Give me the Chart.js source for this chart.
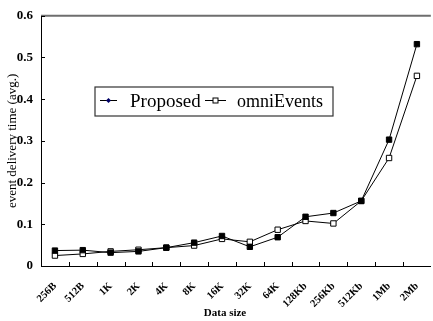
<!DOCTYPE html>
<html>
<head>
<meta charset="utf-8">
<script src="https://cdn.jsdelivr.net/npm/chart.js@4/dist/chart.umd.min.js"></script>
<style>
  html, body { margin: 0; padding: 0; background: #fff; overflow: hidden; }
  #wrap { width: 440px; height: 321px; }
</style>
</head>
<body>
<div id="wrap"><canvas id="c" width="440" height="321"></canvas></div>
<script>
const categories = ["256B","512B","1K","2K","4K","8K","16K","32K","64K","128Kb","256Kb","512Kb","1Mb","2Mb"];
const proposed   = [0.037,0.038,0.032,0.035,0.044,0.056,0.072,0.046,0.069,0.118,0.127,0.156,0.303,0.532];
const omniEvents = [0.025,0.029,0.035,0.039,0.044,0.049,0.065,0.058,0.087,0.108,0.102,0.156,0.259,0.456];
const seriesNames = ["Proposed","omniEvents"];
const yTicks = [0,0.1,0.2,0.3,0.4,0.5,0.6];

const SERIF = "'Liberation Serif', 'Times New Roman', serif";

const decor = {
  id: 'decor',
  beforeDatasetsDraw(chart) {
    const {ctx, chartArea: a, scales: {x, y}} = chart;
    ctx.save();
    ctx.strokeStyle = '#6e6e6e';
    ctx.lineWidth = 2;
    ctx.beginPath(); ctx.moveTo(a.left, a.top); ctx.lineTo(a.right, a.top); ctx.stroke();
    ctx.strokeStyle = '#000';
    ctx.lineWidth = 1;
    ctx.beginPath();
    for (let i = 1; i < x.ticks.length; i++) {
      const px = Math.round((x.getPixelForTick(i - 1) + x.getPixelForTick(i)) / 2) + 0.5;
      ctx.moveTo(px, a.bottom); ctx.lineTo(px, a.bottom - 4);
    }
    y.ticks.forEach((t, i) => {
      const py = Math.round(y.getPixelForTick(i)) + 0.5;
      ctx.moveTo(a.left, py); ctx.lineTo(a.left + 4, py);
    });
    ctx.stroke();
    ctx.restore();
  },
  afterDraw(chart) {
    const {ctx} = chart;
    ctx.save();
    ctx.fillStyle = '#000';
    ctx.font = "bold 11px " + SERIF;
    ctx.textAlign = 'center';
    ctx.textBaseline = 'alphabetic';
    ctx.fillText('Data size', 225, 316);
    ctx.strokeStyle = '#333';
    ctx.lineWidth = 1.2;
    ctx.fillStyle = '#fff';
    ctx.fillRect(95, 87, 238, 29);
    ctx.strokeRect(95, 87, 238, 29);
    const ly = 100.5;
    ctx.strokeStyle = '#000'; ctx.lineWidth = 1;
    ctx.beginPath(); ctx.moveTo(100, ly); ctx.lineTo(117, ly); ctx.stroke();
    ctx.fillStyle = '#000066';
    ctx.beginPath(); ctx.moveTo(108.5, ly - 2.5); ctx.lineTo(111, ly); ctx.lineTo(108.5, ly + 2.5); ctx.lineTo(106, ly); ctx.closePath(); ctx.fill();
    ctx.fillStyle = '#000';
    ctx.font = "19px " + SERIF;
    ctx.textAlign = 'left';
    ctx.fillText(seriesNames[0], 130, 107);
    ctx.beginPath(); ctx.moveTo(205, ly); ctx.lineTo(226, ly); ctx.stroke();
    ctx.fillStyle = '#fff';
    ctx.fillRect(213, ly - 2.5, 5, 5);
    ctx.strokeRect(213, ly - 2.5, 5, 5);
    ctx.fillStyle = '#000';
    ctx.font = "18px " + SERIF;
    ctx.fillText(seriesNames[1], 237, 107);
    ctx.restore();
  }
};

new Chart(document.getElementById('c'), {
  type: 'line',
  data: {
    labels: categories,
    datasets: [
      {
        label: seriesNames[0], data: proposed,
        borderColor: '#000', borderWidth: 1, backgroundColor: '#000',
        pointStyle: 'rect', pointRadius: 3.8, pointBorderColor: '#000', pointBackgroundColor: '#000',
        pointBorderWidth: 1, tension: 0
      },
      {
        label: seriesNames[1], data: omniEvents,
        borderColor: '#000', borderWidth: 1, backgroundColor: '#fff',
        pointStyle: 'rect', pointRadius: 3.8, pointBorderColor: '#000', pointBackgroundColor: '#fff',
        pointBorderWidth: 1, tension: 0
      }
    ]
  },
  options: {
    responsive: false,
    animation: false,
    layout: { padding: { top: 5, right: 3.5, left: 0, bottom: 0 } },
    plugins: { legend: { display: false }, tooltip: { enabled: false }, title: { display: false } },
    scales: {
      x: {
        offset: true,
        grid: { display: true, drawOnChartArea: false, drawTicks: false, offset: true },
        border: { display: true, color: '#000', width: 1 },
        ticks: {
          color: '#000', maxRotation: 45, minRotation: 45, autoSkip: false, padding: 14,
          font: { family: SERIF, size: 10.5, weight: 'bold' }
        },
        afterFit(scale) { scale.height = 55; }
      },
      y: {
        min: 0, max: 0.6,
        afterBuildTicks(scale) { scale.ticks = yTicks.map(v => ({ value: v })); },
        grid: { display: true, drawOnChartArea: false, drawTicks: false },
        border: { display: true, color: '#000', width: 1 },
        ticks: {
          color: '#000', padding: 8,
          font: { family: SERIF, size: 13, weight: 'bold' },
          callback: v => String(v)
        },
        title: {
          display: true, text: 'event delivery time (avg.)', color: '#000',
          font: { family: SERIF, size: 13 }, padding: { top: 5, bottom: 0 }
        },
        afterFit(scale) { scale.width = 41; }
      }
    }
  },
  plugins: [decor]
});
</script>
</body>
</html>
